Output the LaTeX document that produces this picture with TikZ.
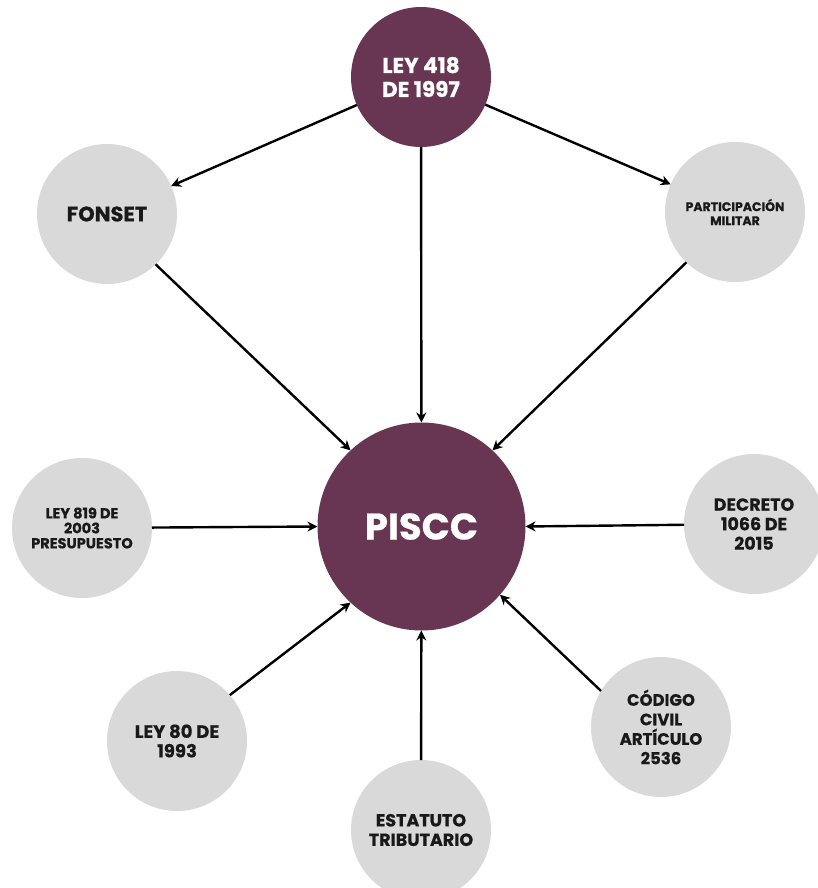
\documentclass[tikz,border=0pt]{standalone}
\usepackage{fontspec}
\setsansfont{Poppins}[BoldFeatures={FakeBold=0.6}]
\usetikzlibrary{positioning,arrows.meta}
\definecolor{vino}{RGB}{104,54,82}
\definecolor{gris}{RGB}{217,217,217}

\begin{document}
\begin{tikzpicture}[x=1pt,y=-1pt,
    grande/.style={circle,fill=vino,text=white,align=center,inner sep=0pt,outer sep=0pt},
    chico/.style={circle,fill=gris,text=black!90,align=center,inner sep=0pt,outer sep=0pt,minimum size=140pt},
    flecha/.style={-{Stealth[length=10pt,width=10pt]},line width=2.4pt}]
    \useasboundingbox (0,0) rectangle (817,888);
    % centro
    \node[grande,minimum size=208pt,font=\sffamily\bfseries\fontsize{37}{42}\selectfont] (piscc) at (421.5,526.5) {PISCC};
    \node[grande,minimum size=140pt,font=\sffamily\bfseries\fontsize{21.5}{24}\selectfont] (ley418) at (421,77) {LEY 418\\DE 1997};
    % alrededor
    \node[chico,font=\sffamily\bfseries\fontsize{21}{24}\selectfont] (fonset) at (107,214) {FONSET};
    \node[chico,font=\sffamily\bfseries\fontsize{12.5}{14}\selectfont] (militar) at (735,212) {PARTICIPACIÓN\\MILITAR};
    \node[chico,font=\sffamily\bfseries\fontsize{14.5}{15}\selectfont] (ley819) at (82,528) {LEY 819 DE\\2003\\PRESUPUESTO};
    \node[chico,font=\sffamily\bfseries\fontsize{17.5}{19.5}\selectfont] (decreto) at (754,524) {DECRETO\\1066 DE\\2015};
    \node[chico,font=\sffamily\bfseries\fontsize{18}{19.5}\selectfont] (ley80) at (177,741) {LEY 80 DE\\1993};
    \node[chico,font=\sffamily\bfseries\fontsize{16.5}{19.5}\selectfont] (codigo) at (661,727) {CÓDIGO\\CIVIL\\ARTÍCULO\\2536};
    \node[chico,font=\sffamily\bfseries\fontsize{17.5}{19.5}\selectfont] (estatuto) at (421,830) {ESTATUTO\\TRIBUTARIO};
    % flechas
    \draw[flecha] (ley418) -- (fonset);
    \draw[flecha] (ley418) -- (militar);
    \draw[flecha] (ley418) -- (piscc);
    \draw[flecha] (fonset.-46) -- (piscc.133);
    \draw[flecha] (militar.226) -- (piscc.47);
    \draw[flecha] (ley819) -- (piscc.180);
    \draw[flecha] (decreto) -- (piscc.0);
    \draw[flecha] (ley80.41) -- (piscc.227);
    \draw[flecha] (codigo.149) -- (piscc.-41);
    \draw[flecha] (estatuto) -- (piscc);
\end{tikzpicture}
\end{document}
